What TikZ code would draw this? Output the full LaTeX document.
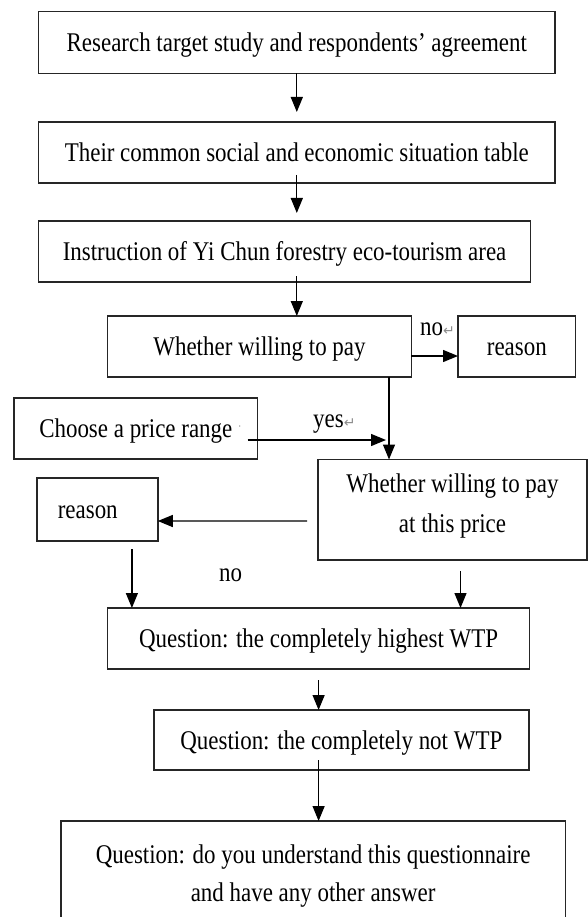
\documentclass[tikz,border=0pt]{standalone}
\usepackage{fontspec}
\setmainfont{Liberation Serif}[FakeStretch=0.85]
\newfontfamily\symf{DejaVu Sans}
\usetikzlibrary{arrows.meta}
\tikzset{
  box/.style={draw=black!85, line width=1.4pt, rectangle, inner sep=0pt, outer sep=0pt, anchor=north west},
  one/.style={text height=18pt, text depth=0pt},
  arr/.style={draw=black, line width=1.3pt, -{Triangle[length=15pt,width=12pt]}},
  lbl/.style={anchor=base west, inner sep=0pt},
}
\newcommand\retmark{{\color{black!45}\symf\fontsize{14}{14}\selectfont ↵}}
\begin{document}
\begin{tikzpicture}[x=1pt,y=-1pt,font=\fontsize{27}{40}\selectfont]
\useasboundingbox[fill=white] (0,0) rectangle (588,917);
\clip (0,0) rectangle (588,917);

\node[box,one,minimum width=516.4pt,minimum height=61.6pt] (b1) at (38.6,11.7) {Research target study and respondents’ agreement};
\node[box,one,minimum width=516.4pt,minimum height=61pt] (b2) at (38.6,122) {Their common social and economic situation table};
\node[box,one,minimum width=492pt,minimum height=61pt] (b3) at (38.6,221) {Instruction of Yi Chun forestry eco-tourism area};
\node[box,one,minimum width=303.8pt,minimum height=61pt] (b4) at (107.6,316) {Whether willing to pay};
\node[box,one,minimum width=117.6pt,minimum height=61pt] (r1) at (458,316) {reason};
\node[box,one,minimum width=243.6pt,minimum height=61pt] (ch) at (14,398) {Choose a price range};
\node[box,align=center,minimum width=269pt,minimum height=100.5pt] (wp) at (318,459.5) {Whether willing to pay\\at this price\rule[-14pt]{0pt}{1pt}};
\node[box,one,align=left,inner xsep=21pt,text width=79pt,minimum height=63pt] (r2) at (36.8,478) {reason};
\node[box,one,minimum width=422pt,minimum height=61pt] (q1) at (107.6,608) {Question: the completely highest WTP};
\node[box,one,minimum width=375pt,minimum height=60pt] (q2) at (153.8,710) {Question: the completely not WTP};
\node[box,align=center,font=\fontsize{27}{38.7}\selectfont,minimum width=504.7pt,minimum height=110pt] (q3) at (60.8,821) {Question: do you understand this questionnaire\\and have any other answer};

\node[lbl] (no1) at (420,335) {no\retmark};
\node[lbl] (yes) at (313,427) {yes\retmark};
\node[lbl] (no2) at (219,581.7) {no};
\node[lbl,text=black!50,font=\fontsize{12}{12}\selectfont] (dot) at (238,430) {·};

\coordinate (yj) at (386,440);

\draw[arr,shorten >=10pt] (b1.south) -- (b2.north);
\draw[arr,shorten >=8pt] ([yshift=8pt]b2.south) -- (b2.south |- b3.north);
\draw[arr] ([yshift=6pt]b3.south -| b1.south) -- (b4.north -| b1.south);
\draw[arr] ([yshift=-9.5pt]b4.east) -- ([yshift=-9.5pt]r1.west);
\draw[arr] ([xshift=-22.4pt]b4.south east) -- ([xshift=-22.4pt]b4.south east |- wp.north);
\draw[arr] ([xshift=-10pt,yshift=-11.5pt]ch.east) -- (yj);
\draw[arr] ([xshift=-11pt,yshift=-11.3pt]wp.west) -- ([yshift=-11.5pt]r2.east);
\draw[arr] ([xshift=34.6pt,yshift=-8pt]r2.south) -- ([xshift=34.6pt]r2.south |- q1.north);
\draw[arr] ([xshift=8pt,yshift=-11pt]wp.south) -- ([xshift=8pt]wp.south |- q1.north);
\draw[arr] ([yshift=-11pt]q1.south) -- (q1.south |- q2.north);
\draw[arr] ([yshift=10pt]q1.south |- q2.south) -- (q1.south |- q3.north);
\end{tikzpicture}
\end{document}
